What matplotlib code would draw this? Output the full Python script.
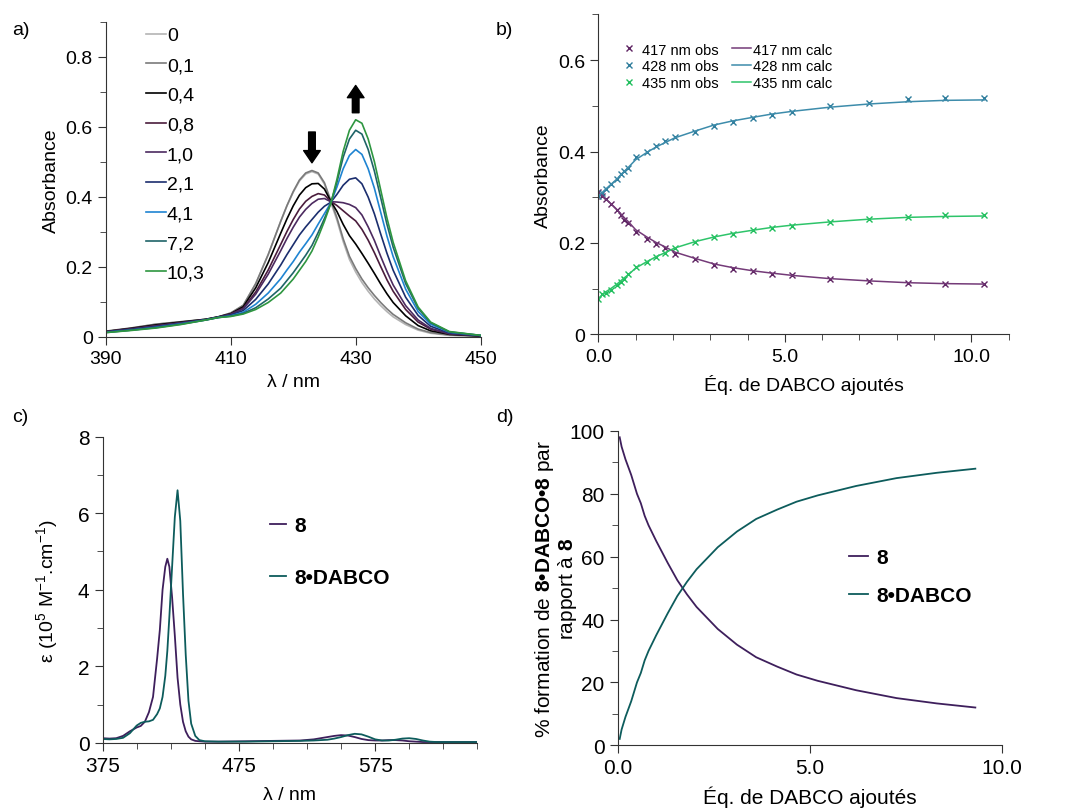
import matplotlib
matplotlib.use("Agg")
import matplotlib.pyplot as plt
from matplotlib.ticker import MultipleLocator, FuncFormatter

plt.rcParams["font.family"] = ["Liberation Sans", "DejaVu Sans"]
plt.rcParams["mathtext.fontset"] = "custom"
plt.rcParams["mathtext.rm"] = "Liberation Sans"
plt.rcParams["mathtext.bf"] = "Liberation Sans:bold"
plt.rcParams["font.size"] = 14

# --- a) spectra during titration ---
wl_a = [390, 394, 398, 402, 406, 408, 410, 412, 414, 416, 418, 419, 420, 421, 422, 423, 424,
        425, 426, 427, 428, 429, 430, 431, 432, 433, 434, 435, 436, 438, 440, 442, 445, 450]
eq_labels = ["0", "0,1", "0,4", "0,8", "1,0", "2,1", "4,1", "7,2", "10,3"]
abs_0 = [.016, .025, .036, .043, .050, .057, .068, .090, .152, .235, .330, .374, .413, .445, .465, .472, .465,
         .436, .385, .333, .272, .221, .185, .155, .130, .108, .089, .072, .057, .035, .019, .010, .004, .002]
abs_01 = [.016, .025, .036, .043, .050, .057, .068, .090, .152, .235, .330, .375, .415, .448, .468, .475, .468,
          .440, .390, .340, .280, .230, .195, .165, .140, .118, .098, .080, .064, .040, .022, .012, .005, .002]
abs_04 = [.015, .024, .034, .042, .050, .057, .066, .086, .140, .212, .296, .337, .374, .405, .426, .437, .438,
          .422, .388, .358, .321, .289, .265, .238, .210, .181, .151, .123, .098, .060, .032, .017, .007, .002]
abs_08 = [.015, .023, .032, .040, .049, .056, .065, .082, .128, .191, .264, .301, .335, .365, .387, .401, .409,
          .405, .387, .375, .360, .345, .331, .307, .276, .240, .201, .163, .130, .078, .042, .022, .008, .003]
abs_10 = [.014, .022, .031, .040, .049, .056, .064, .080, .122, .179, .246, .281, .313, .342, .364, .381, .393,
          .395, .386, .385, .383, .378, .369, .348, .314, .275, .230, .187, .148, .089, .048, .024, .009, .003]
abs_21 = [.014, .021, .029, .038, .049, .056, .062, .075, .107, .151, .205, .235, .263, .291, .314, .335, .356,
          .373, .384, .407, .433, .450, .454, .437, .399, .351, .294, .239, .190, .113, .061, .030, .011, .003]
abs_41 = [.013, .019, .027, .037, .048, .055, .060, .070, .093, .125, .166, .191, .215, .242, .266, .291, .322,
          .352, .382, .428, .480, .518, .535, .521, .480, .424, .356, .288, .229, .136, .072, .036, .013, .004]
abs_72 = [.012, .019, .026, .036, .048, .055, .059, .067, .083, .108, .139, .161, .183, .208, .233, .261, .298,
          .338, .381, .442, .513, .565, .590, .579, .535, .473, .398, .322, .256, .152, .081, .040, .014, .004]
abs_103 = [.012, .018, .025, .035, .048, .055, .058, .065, .078, .098, .125, .145, .165, .190, .215, .245, .285,
           .330, .380, .450, .530, .590, .620, .610, .565, .500, .420, .340, .270, .160, .085, .042, .015, .004]
colors_a = ["#b4b4b4", "#7a7a7a", "#000000", "#4a1c3c", "#4c2a60", "#1b2e6e", "#1f84d2", "#1f6468", "#2e9640"]

# --- b) absorbance vs equivalents ---
eq_b = [0.0, 0.1, 0.2, 0.35, 0.5, 0.6, 0.7, 0.8, 1.0, 1.3, 1.55, 1.8, 2.05, 2.6, 3.1, 3.6,
        4.15, 4.65, 5.2, 6.2, 7.25, 8.3, 9.3, 10.35]
obs_417 = [0.312, 0.303, 0.296, 0.285, 0.271, 0.261, 0.250, 0.243, 0.224, 0.209, 0.197, 0.188,
           0.175, 0.164, 0.152, 0.144, 0.138, 0.133, 0.129, 0.122, 0.117, 0.113, 0.111, 0.111]
obs_428 = [0.303, 0.310, 0.318, 0.329, 0.340, 0.351, 0.358, 0.365, 0.387, 0.399, 0.412, 0.423,
           0.432, 0.443, 0.456, 0.465, 0.474, 0.481, 0.487, 0.499, 0.506, 0.515, 0.518, 0.518]
obs_435 = [0.077, 0.088, 0.091, 0.098, 0.107, 0.114, 0.122, 0.131, 0.147, 0.159, 0.170, 0.179,
           0.190, 0.201, 0.213, 0.219, 0.228, 0.233, 0.238, 0.246, 0.253, 0.257, 0.261, 0.261]
calc_417 = [0.312, 0.304, 0.296, 0.285, 0.273, 0.264, 0.255, 0.247, 0.229, 0.213, 0.201, 0.191,
            0.180, 0.166, 0.154, 0.146, 0.139, 0.134, 0.129, 0.122, 0.117, 0.113, 0.111, 0.110]
calc_428 = [0.303, 0.310, 0.318, 0.329, 0.340, 0.349, 0.357, 0.365, 0.382, 0.398, 0.410, 0.420,
            0.430, 0.445, 0.458, 0.467, 0.475, 0.482, 0.488, 0.497, 0.504, 0.509, 0.512, 0.513]
calc_435 = [0.077, 0.086, 0.093, 0.101, 0.110, 0.117, 0.124, 0.130, 0.145, 0.159, 0.170, 0.179,
            0.189, 0.203, 0.213, 0.221, 0.228, 0.234, 0.239, 0.246, 0.252, 0.256, 0.258, 0.259]

# --- c) molar absorptivity ---
wl_c = [375, 380, 385, 390, 395, 400, 403, 406, 409, 412, 415, 417, 419, 421, 422.5, 424, 426, 428,
        430, 432, 434, 436, 438, 440, 443, 446, 450, 460, 480, 500, 520, 530, 540, 545, 550, 555,
        560, 565, 570, 575, 580, 585, 590, 595, 600, 605, 610, 615, 620, 630, 640, 650]
eps_8 = [0.12, 0.11, 0.12, 0.18, 0.30, 0.40, 0.44, 0.55, 0.80, 1.2, 2.2, 2.95, 4.0, 4.6, 4.81, 4.6, 3.8, 2.8,
         1.7, 1.0, 0.55, 0.30, 0.16, 0.09, 0.05, 0.04, 0.03, 0.03, 0.04, 0.05, 0.06, 0.09, 0.15, 0.18, 0.20, 0.19,
         0.15, 0.10, 0.07, 0.06, 0.06, 0.07, 0.07, 0.06, 0.04, 0.03, 0.02, 0.02, 0.02, 0.02, 0.02, 0.02]
eps_8dabco = [0.10, 0.09, 0.10, 0.13, 0.25, 0.45, 0.52, 0.55, 0.56, 0.60, 0.75, 0.90, 1.2, 1.75, 2.4, 3.3, 4.6, 5.9,
              6.6, 5.8, 3.9, 2.3, 1.1, 0.50, 0.18, 0.07, 0.04, 0.03, 0.03, 0.04, 0.05, 0.06, 0.08, 0.11, 0.15, 0.20,
              0.235, 0.22, 0.16, 0.09, 0.06, 0.06, 0.08, 0.11, 0.12, 0.10, 0.06, 0.03, 0.02, 0.02, 0.02, 0.02]

# --- d) % formation ---
eq_d = [0.05, 0.1, 0.2, 0.35, 0.5, 0.6, 0.7, 0.8, 1.0, 1.3, 1.55, 1.8, 2.05, 2.6, 3.1, 3.6,
        4.15, 4.65, 5.2, 6.2, 7.25, 8.3, 9.3]
pct_8 = [98, 95, 91, 86, 80, 77, 73, 70, 65, 58, 52.5, 48, 44, 37, 32, 28, 25, 22.5, 20.5, 17.5, 15, 13.3, 12]
pct_8dabco = [2, 5, 9, 14, 20, 23, 27, 30, 35, 42, 47.5, 52, 56, 63, 68, 72, 75, 77.5, 79.5, 82.5, 85, 86.7, 88]

c_purple = "#3e1f5c"
c_teal = "#0d5c5c"

fig = plt.figure(figsize=(10.8, 8.12), dpi=100)
ax_a = fig.add_axes([0.098, 0.584, 0.347, 0.388])
ax_b = fig.add_axes([0.554, 0.587, 0.380, 0.394])
ax_c = fig.add_axes([0.095, 0.084, 0.347, 0.377])
ax_d = fig.add_axes([0.572, 0.081, 0.356, 0.387])


def style(ax, size=14):
    for s in ["top", "right"]:
        ax.spines[s].set_visible(False)
    for s in ["left", "bottom"]:
        ax.spines[s].set_color("#333333")
    ax.tick_params(which="both", direction="out", color="#333333", labelsize=size)
    ax.tick_params(which="major", length=6)
    ax.tick_params(which="minor", length=4)


zero_fmt = FuncFormatter(lambda v, p: "0" if abs(v) < 1e-9 else f"{v:.1f}")
one_dec = FuncFormatter(lambda v, p: f"{v:.1f}")

# a)
all_abs = [abs_0, abs_01, abs_04, abs_08, abs_10, abs_21, abs_41, abs_72, abs_103]
for lab, ys, col in zip(eq_labels, all_abs, colors_a):
    ax_a.plot(wl_a, ys, color=col, lw=1.2, label=lab)
ax_a.set_xlim(390, 450)
ax_a.set_ylim(0, 0.9)
ax_a.set_xticks([390, 410, 430, 450])
ax_a.yaxis.set_major_locator(MultipleLocator(0.2))
ax_a.yaxis.set_minor_locator(MultipleLocator(0.1))
ax_a.yaxis.set_major_formatter(zero_fmt)
ax_a.set_xlabel("λ / nm", fontsize=14)
ax_a.set_ylabel("Absorbance", fontsize=14)
style(ax_a)
ax_a.legend(loc="upper left", bbox_to_anchor=(0.08, 1.015), frameon=False, fontsize=14,
            handlelength=1.05, handletextpad=0.05, labelspacing=0.62, borderpad=0)
arrow = dict(arrowstyle="simple,head_length=0.55,head_width=0.75,tail_width=0.3",
             color="black", shrinkA=0, shrinkB=0, mutation_scale=16)
ax_a.annotate("", xy=(423, 0.497), xytext=(423, 0.585), arrowprops=arrow)
ax_a.annotate("", xy=(430, 0.718), xytext=(430, 0.64), arrowprops=arrow)

# b)
ax_b.plot(eq_b, obs_417, "x", color="#5e2462", ms=5, mew=1, label="417 nm obs")
ax_b.plot(eq_b, obs_428, "x", color="#2f7d9c", ms=5, mew=1, label="428 nm obs")
ax_b.plot(eq_b, obs_435, "x", color="#1fbe5c", ms=5, mew=1, label="435 nm obs")
ax_b.plot(eq_b, calc_417, color="#743a78", lw=1.1, label="417 nm calc")
ax_b.plot(eq_b, calc_428, color="#3d8cab", lw=1.1, label="428 nm calc")
ax_b.plot(eq_b, calc_435, color="#2ec46a", lw=1.1, label="435 nm calc")
ax_b.set_xlim(0, 11)
ax_b.set_ylim(0, 0.7)
ax_b.xaxis.set_major_locator(MultipleLocator(5))
ax_b.xaxis.set_minor_locator(MultipleLocator(1))
ax_b.xaxis.set_major_formatter(one_dec)
ax_b.yaxis.set_major_locator(MultipleLocator(0.2))
ax_b.yaxis.set_minor_locator(MultipleLocator(0.1))
ax_b.yaxis.set_major_formatter(zero_fmt)
ax_b.set_xlabel("Éq. de DABCO ajoutés", fontsize=14, labelpad=7)
ax_b.set_ylabel("Absorbance", fontsize=14)
style(ax_b)
ax_b.legend(loc="upper left", bbox_to_anchor=(0.035, 0.935), ncol=2, frameon=False, fontsize=10.5,
            handlelength=1.3, handletextpad=0.2, labelspacing=0.2, columnspacing=0.9, borderpad=0)

# c)
ax_c.plot(wl_c, eps_8, color=c_purple, lw=1.3, label="8")
ax_c.plot(wl_c, eps_8dabco, color=c_teal, lw=1.3, label="8•DABCO")
ax_c.set_xlim(375, 650)
ax_c.set_ylim(0, 8)
ax_c.set_xticks([375, 475, 575])
ax_c.xaxis.set_minor_locator(MultipleLocator(25))
ax_c.yaxis.set_major_locator(MultipleLocator(2))
ax_c.yaxis.set_minor_locator(MultipleLocator(1))
ax_c.set_xlabel("λ / nm", fontsize=14, labelpad=8)
ax_c.set_ylabel(r"ε (10$^{5}$ M$^{-1}$.cm$^{-1}$)", fontsize=14, labelpad=12)
style(ax_c, 15)
ax_c.legend(loc="upper left", bbox_to_anchor=(0.42, 0.775), frameon=False,
            prop={"size": 15, "weight": "bold"}, handlelength=0.75, handletextpad=0.4,
            labelspacing=1.6, borderpad=0)

# d)
ax_d.plot(eq_d, pct_8, color=c_purple, lw=1.3, label="8")
ax_d.plot(eq_d, pct_8dabco, color=c_teal, lw=1.3, label="8•DABCO")
ax_d.set_xlim(0, 10)
ax_d.set_ylim(0, 100)
ax_d.xaxis.set_major_locator(MultipleLocator(5))
ax_d.xaxis.set_major_formatter(one_dec)
ax_d.yaxis.set_major_locator(MultipleLocator(20))
ax_d.yaxis.set_minor_locator(MultipleLocator(10))
ax_d.set_xlabel("Éq. de DABCO ajoutés", fontsize=15, labelpad=6)
ax_d.set_ylabel("% formation de $\\mathbf{8•DABCO•8}$ par\nrapport à $\\mathbf{8}$", fontsize=15,
                labelpad=-7, linespacing=1.0)
style(ax_d, 15)
ax_d.legend(loc="upper left", bbox_to_anchor=(0.575, 0.66), frameon=False,
            prop={"size": 15, "weight": "bold"}, handlelength=0.9, handletextpad=0.4,
            labelspacing=0.9, borderpad=0)

for lab, x, y in [("a)", 0.011, 0.957), ("b)", 0.459, 0.957), ("c)", 0.011, 0.48), ("d)", 0.459, 0.48)]:
    fig.text(x, y, lab, fontsize=14)

fig.savefig("out.png", dpi=100)
